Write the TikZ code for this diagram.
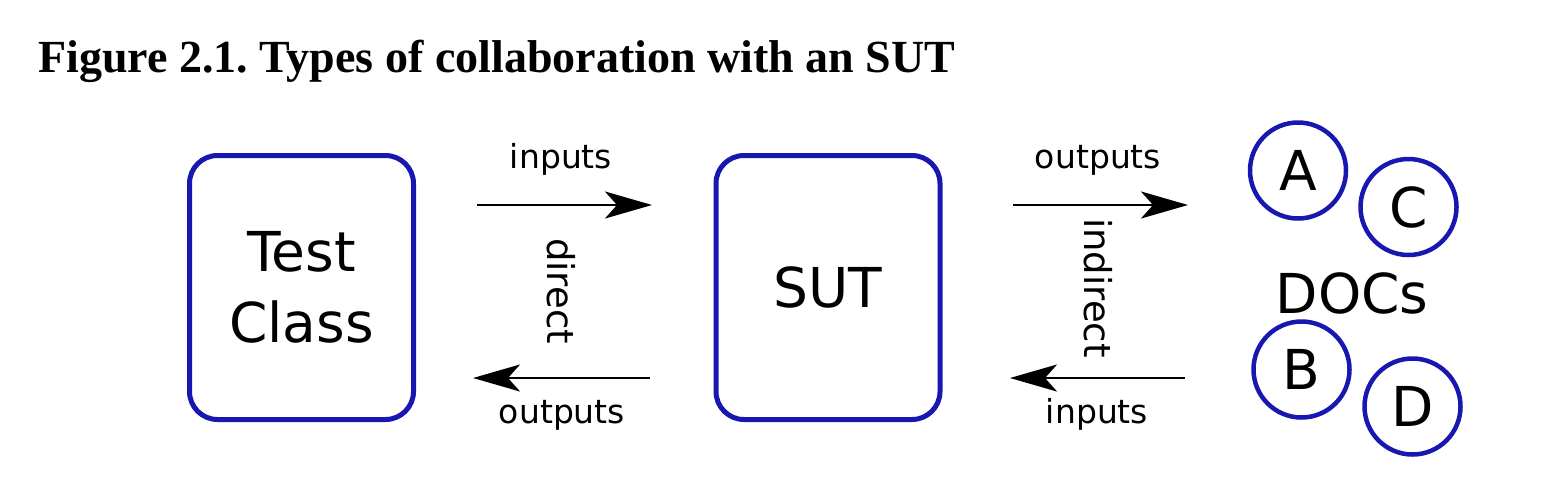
\documentclass[tikz,border=0pt]{standalone}
\usepackage{fontspec}
\setmainfont{DejaVu Sans}
\newfontfamily\titlefont{Liberation Serif}
\usetikzlibrary{arrows.meta}
\definecolor{boxblue}{RGB}{24,24,176}
\tikzset{
  unitbox/.style={draw=boxblue, line width=5pt, rounded corners=28pt, minimum width=224pt, minimum height=264pt, inner sep=0pt, align=center, font=\fontsize{55}{71}\selectfont},
  doc/.style={draw=boxblue, line width=4.5pt, circle, minimum size=96pt, inner sep=0pt, font=\fontsize{55}{66}\selectfont},
  lbl/.style={inner sep=0pt, font=\fontsize{33}{40}\selectfont},
  rlbl/.style={inner sep=0pt, rotate=-90, font=\fontsize{37}{44}\selectfont},
  flow/.style={line width=2.5pt, -{Stealth[length=47pt, width=27pt, inset=12pt]}},
}
\begin{document}
\frenchspacing
\begin{tikzpicture}[x=1pt, y=-1pt]
\useasboundingbox (0,0) rectangle (1554,491);
\node[anchor=base west, inner sep=0pt, font=\titlefont\bfseries\fontsize{46}{54}\selectfont] (title) at (38,72) {Figure 2.1. Types of collaboration with an SUT};
\node[unitbox] (tc) at (301.5,287.5) {Test\\Class};
\node[unitbox] (sut) at (828,287.5) {SUT};
\node[doc] (A) at (1298,170.5) {A};
\node[doc] (C) at (1408.5,207) {C};
\node[doc] (B) at (1301.5,369.5) {B};
\node[doc] (D) at (1412.5,406.5) {D};
\node[inner sep=0pt, font=\fontsize{55}{66}\selectfont] (docs) at (1352,293) {DOCs};
\coordinate (a1s) at (477,205);
\coordinate (a1e) at (652,205);
\coordinate (a2s) at (650,378);
\coordinate (a2e) at (473,378);
\coordinate (a3s) at (1013,205);
\coordinate (a3e) at (1188,205);
\coordinate (a4s) at (1185,378);
\coordinate (a4e) at (1010,378);
\draw[flow] (a1s) -- (a1e);
\draw[flow] (a2s) -- (a2e);
\draw[flow] (a3s) -- (a3e);
\draw[flow] (a4s) -- (a4e);
\node[lbl, anchor=base] (l1) at (561,168) {inputs};
\node[lbl, anchor=base] (l2) at (562,423) {outputs};
\node[lbl, anchor=base] (l3) at (1098,168) {outputs};
\node[lbl, anchor=base] (l4) at (1097,423) {inputs};
\node[rlbl] (r1) at (561,291) {direct};
\node[rlbl] (r2) at (1098,288) {indirect};
\end{tikzpicture}
\end{document}
